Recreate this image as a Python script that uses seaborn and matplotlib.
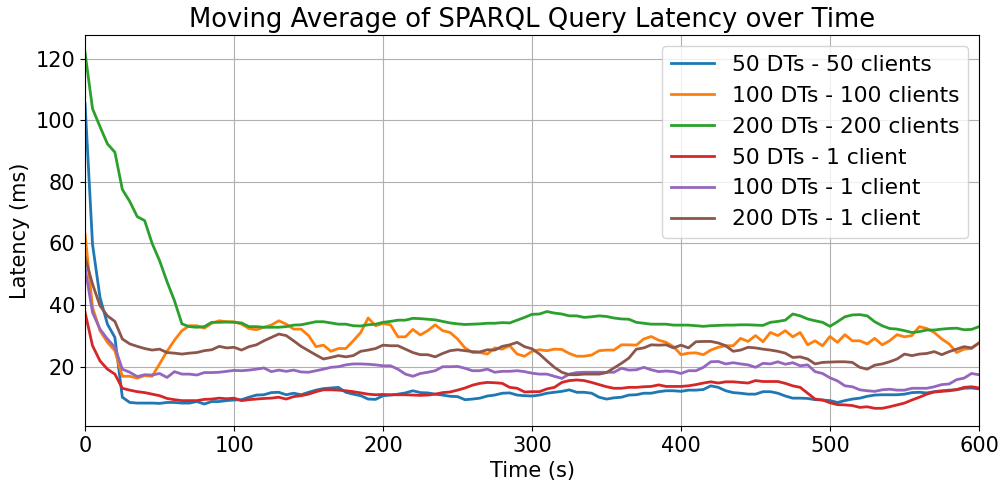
import numpy as np
import pandas as pd
import matplotlib
matplotlib.use("Agg")
import matplotlib.pyplot as plt
import seaborn as sns

# time axis, one sample every 5 s
time_s = list(range(0, 601, 5))

series_names = [
    "50 DTs - 50 clients",
    "100 DTs - 100 clients",
    "200 DTs - 200 clients",
    "50 DTs - 1 client",
    "100 DTs - 1 client",
    "200 DTs - 1 client",
]

lat_50_50 = [
    105.3, 59.7, 42.5, 33.8, 29.5, 10.1, 8.4, 8.2, 8.2, 8.2, 8.1, 8.4, 8.4, 8.2, 8.2, 8.7, 7.9, 8.7, 8.7, 9.0, 9.2,
    9.3, 10.1, 10.8, 10.9, 11.6, 11.7, 10.9, 11.4, 10.9, 11.7, 12.4, 12.9, 13.1, 13.3, 11.7, 11.1, 10.6, 9.5, 9.4, 10.6,
    10.8, 11.1, 11.5, 12.2, 11.6, 11.5, 11.1, 10.8, 10.4, 10.3, 9.3, 9.5, 9.8, 10.5, 10.8, 11.4, 11.5, 10.8, 10.6, 10.5,
    10.8, 11.4, 11.7, 12.0, 12.5, 11.7, 11.7, 11.4, 10.1, 9.5, 9.9, 10.1, 10.8, 10.9, 11.4, 11.4, 11.9, 12.2, 12.2, 12.0,
    12.4, 12.4, 12.6, 13.8, 13.3, 12.2, 11.6, 11.4, 11.1, 11.1, 11.9, 11.9, 11.4, 10.5, 9.8, 9.8, 9.7, 9.3, 9.2, 9.0,
    8.4, 9.0, 9.5, 9.8, 10.4, 10.8, 10.9, 10.9, 10.9, 11.1, 11.6, 11.7, 11.5, 11.9, 12.2, 12.4, 12.5, 13.0, 13.1, 12.8,
]
lat_100_100 = [
    62.9, 39.2, 31.7, 27.9, 25.2, 16.9, 16.9, 16.3, 17.1, 16.9, 20.9, 25.0, 28.6, 31.7, 33.3, 33.3, 32.5, 34.1, 34.9, 34.6, 34.6,
    33.8, 32.4, 32.0, 32.8, 33.5, 34.9, 33.8, 32.2, 32.2, 30.1, 26.5, 27.0, 25.0, 25.9, 25.9, 28.4, 31.1, 35.8, 33.3, 34.0,
    33.6, 29.7, 29.7, 32.1, 30.3, 31.7, 33.6, 31.7, 31.1, 29.0, 26.1, 24.6, 24.6, 24.1, 26.1, 25.7, 26.8, 24.1, 23.4, 25.0,
    25.5, 25.2, 25.7, 25.6, 24.3, 23.4, 23.4, 23.8, 25.2, 25.4, 25.4, 27.1, 27.1, 27.0, 29.0, 29.8, 28.6, 27.9, 26.5, 23.9,
    24.4, 24.5, 23.9, 25.4, 26.3, 26.8, 26.8, 29.2, 28.2, 30.1, 28.1, 31.1, 30.1, 31.7, 29.7, 31.1, 27.1, 28.4, 26.8, 29.8,
    27.9, 30.4, 28.4, 28.4, 27.4, 29.2, 27.1, 28.4, 30.4, 29.7, 30.1, 33.0, 32.4, 31.1, 29.0, 27.4, 24.6, 25.7, 25.9, 27.7,
]
lat_200_200 = [
    121.8, 103.7, 97.9, 92.3, 89.6, 77.5, 73.6, 68.7, 67.4, 60.0, 54.4, 47.6, 41.4, 33.9, 33.0, 32.8, 33.0, 34.4, 34.4, 34.5, 34.4,
    34.2, 33.0, 33.0, 32.8, 32.8, 32.8, 33.0, 33.5, 33.6, 34.1, 34.6, 34.6, 34.2, 33.8, 33.8, 33.3, 33.2, 33.6, 33.8, 34.4,
    34.7, 35.1, 35.1, 35.7, 35.6, 35.4, 35.2, 34.7, 34.2, 33.9, 33.7, 33.8, 33.9, 34.1, 34.1, 34.3, 34.2, 35.1, 36.0, 37.0,
    37.1, 37.9, 37.4, 37.1, 36.5, 36.5, 36.0, 36.2, 36.5, 36.3, 35.8, 35.5, 35.4, 34.4, 34.1, 33.8, 33.8, 33.8, 33.5, 33.5,
    33.5, 33.3, 33.1, 33.3, 33.4, 33.5, 33.5, 33.6, 33.6, 33.5, 33.4, 34.4, 34.7, 35.1, 37.1, 36.5, 35.5, 34.9, 34.4, 33.1,
    34.6, 36.2, 36.8, 36.9, 36.5, 34.6, 33.3, 32.4, 32.2, 31.7, 31.1, 31.4, 31.9, 31.9, 32.2, 32.4, 32.5, 32.0, 32.1, 33.0,
]
lat_50_1 = [
    37.6, 26.8, 21.9, 19.2, 17.6, 13.0, 12.4, 11.9, 11.6, 11.1, 10.6, 9.7, 9.3, 9.0, 9.0, 9.0, 9.4, 9.5, 9.8, 9.6, 9.8,
    9.0, 9.3, 9.5, 9.7, 9.8, 10.1, 9.5, 10.3, 10.6, 11.1, 11.9, 12.5, 12.5, 12.4, 12.2, 11.9, 11.5, 11.1, 10.9, 11.0,
    10.9, 10.9, 10.9, 10.8, 10.7, 10.8, 11.1, 11.6, 11.8, 12.4, 13.1, 14.0, 14.6, 14.9, 14.8, 14.6, 13.3, 13.0, 11.8, 11.9,
    11.9, 12.8, 13.3, 14.9, 15.5, 15.7, 15.5, 14.9, 14.2, 13.5, 13.0, 13.0, 13.3, 13.3, 13.5, 13.6, 14.1, 13.6, 13.6, 13.6,
    13.8, 14.2, 14.7, 15.1, 14.7, 15.1, 15.1, 14.9, 14.7, 15.5, 15.2, 15.2, 15.2, 14.6, 13.8, 13.3, 11.4, 9.5, 9.2, 8.3,
    7.7, 7.6, 7.4, 6.8, 7.0, 6.5, 6.5, 7.0, 7.6, 8.2, 9.2, 10.1, 11.1, 11.8, 12.0, 12.2, 12.6, 13.3, 13.5, 13.1,
]
lat_100_1 = [
    52.1, 37.6, 32.2, 29.0, 26.3, 19.2, 18.2, 16.8, 17.4, 17.3, 17.8, 16.5, 18.4, 17.6, 17.6, 17.3, 18.1, 18.1, 18.2, 18.5, 18.8,
    18.7, 18.9, 19.2, 19.6, 18.4, 18.9, 18.5, 18.9, 18.3, 18.2, 18.7, 19.2, 19.8, 20.0, 20.6, 20.9, 20.9, 20.8, 20.6, 20.3,
    20.3, 19.2, 17.6, 16.9, 17.8, 18.2, 18.7, 20.0, 20.0, 20.1, 19.5, 18.7, 18.7, 19.2, 18.2, 18.5, 18.5, 18.7, 18.4, 17.9,
    17.6, 17.6, 16.9, 16.2, 17.6, 18.1, 18.2, 18.2, 18.2, 18.2, 18.2, 19.5, 18.9, 19.0, 19.8, 19.0, 18.4, 18.6, 18.4, 17.8,
    18.7, 18.7, 19.8, 21.6, 21.7, 20.9, 21.3, 20.9, 20.6, 19.8, 21.1, 20.9, 21.6, 20.8, 21.3, 20.3, 20.6, 18.4, 17.8, 16.4,
    15.4, 13.8, 13.5, 12.5, 12.2, 12.0, 12.5, 12.7, 12.4, 12.4, 13.0, 13.0, 13.0, 13.5, 14.2, 14.4, 15.8, 16.3, 17.8, 17.4,
]
lat_200_1 = [
    55.4, 46.8, 39.8, 36.5, 34.7, 29.0, 27.4, 26.6, 25.9, 25.4, 25.7, 24.6, 24.4, 24.1, 24.4, 24.6, 25.2, 25.5, 26.6, 26.1, 26.3,
    25.4, 26.5, 27.1, 28.4, 29.5, 30.6, 30.1, 28.4, 26.6, 25.2, 23.8, 22.5, 23.0, 23.6, 23.2, 23.6, 25.0, 25.4, 25.9, 27.0,
    26.8, 26.8, 25.7, 24.6, 23.9, 23.9, 23.2, 24.3, 25.2, 25.5, 25.2, 24.9, 24.8, 25.5, 25.4, 26.6, 27.1, 27.9, 26.5, 25.8,
    24.1, 21.9, 19.8, 18.2, 17.4, 17.4, 17.6, 17.6, 17.6, 18.1, 19.6, 21.1, 22.8, 25.7, 26.1, 27.1, 27.0, 27.1, 26.1, 27.0,
    26.1, 28.1, 28.2, 28.2, 27.7, 26.8, 25.0, 25.4, 26.3, 26.1, 25.7, 25.4, 25.0, 24.4, 23.0, 23.2, 22.5, 20.9, 21.4, 21.5,
    21.6, 21.6, 21.4, 19.8, 19.2, 20.5, 20.9, 21.6, 22.5, 24.1, 23.6, 24.1, 24.3, 24.9, 23.9, 24.9, 25.7, 26.5, 26.1, 27.7,
]

all_series = [lat_50_50, lat_100_100, lat_200_200, lat_50_1, lat_100_1, lat_200_1]

frames = []
for name, vals in zip(series_names, all_series):
    assert len(vals) == len(time_s), (name, len(vals))
    frames.append(pd.DataFrame({"time": time_s, "latency": vals, "config": name}))
df = pd.concat(frames, ignore_index=True)

colors = sns.color_palette("tab10", 6)

fig, ax = plt.subplots(figsize=(10.01, 4.82), dpi=100)
for name, col in zip(series_names, colors):
    sub = df[df["config"] == name]
    sns.lineplot(data=sub, x="time", y="latency", color=col, linewidth=2, label=name, ax=ax)

ax.set_xlim(0, 600)
ax.set_title("Moving Average of SPARQL Query Latency over Time", fontsize=18.6)
ax.set_xlabel("Time (s)", fontsize=15)
ax.set_ylabel("Latency (ms)", fontsize=15)
ax.tick_params(labelsize=15)
ax.grid(True)
ax.legend(loc="upper right", fontsize=15.7)

plt.subplots_adjust(left=0.085, right=0.978, top=0.927, bottom=0.116)
plt.savefig("out.png", dpi=100)
plt.close()
